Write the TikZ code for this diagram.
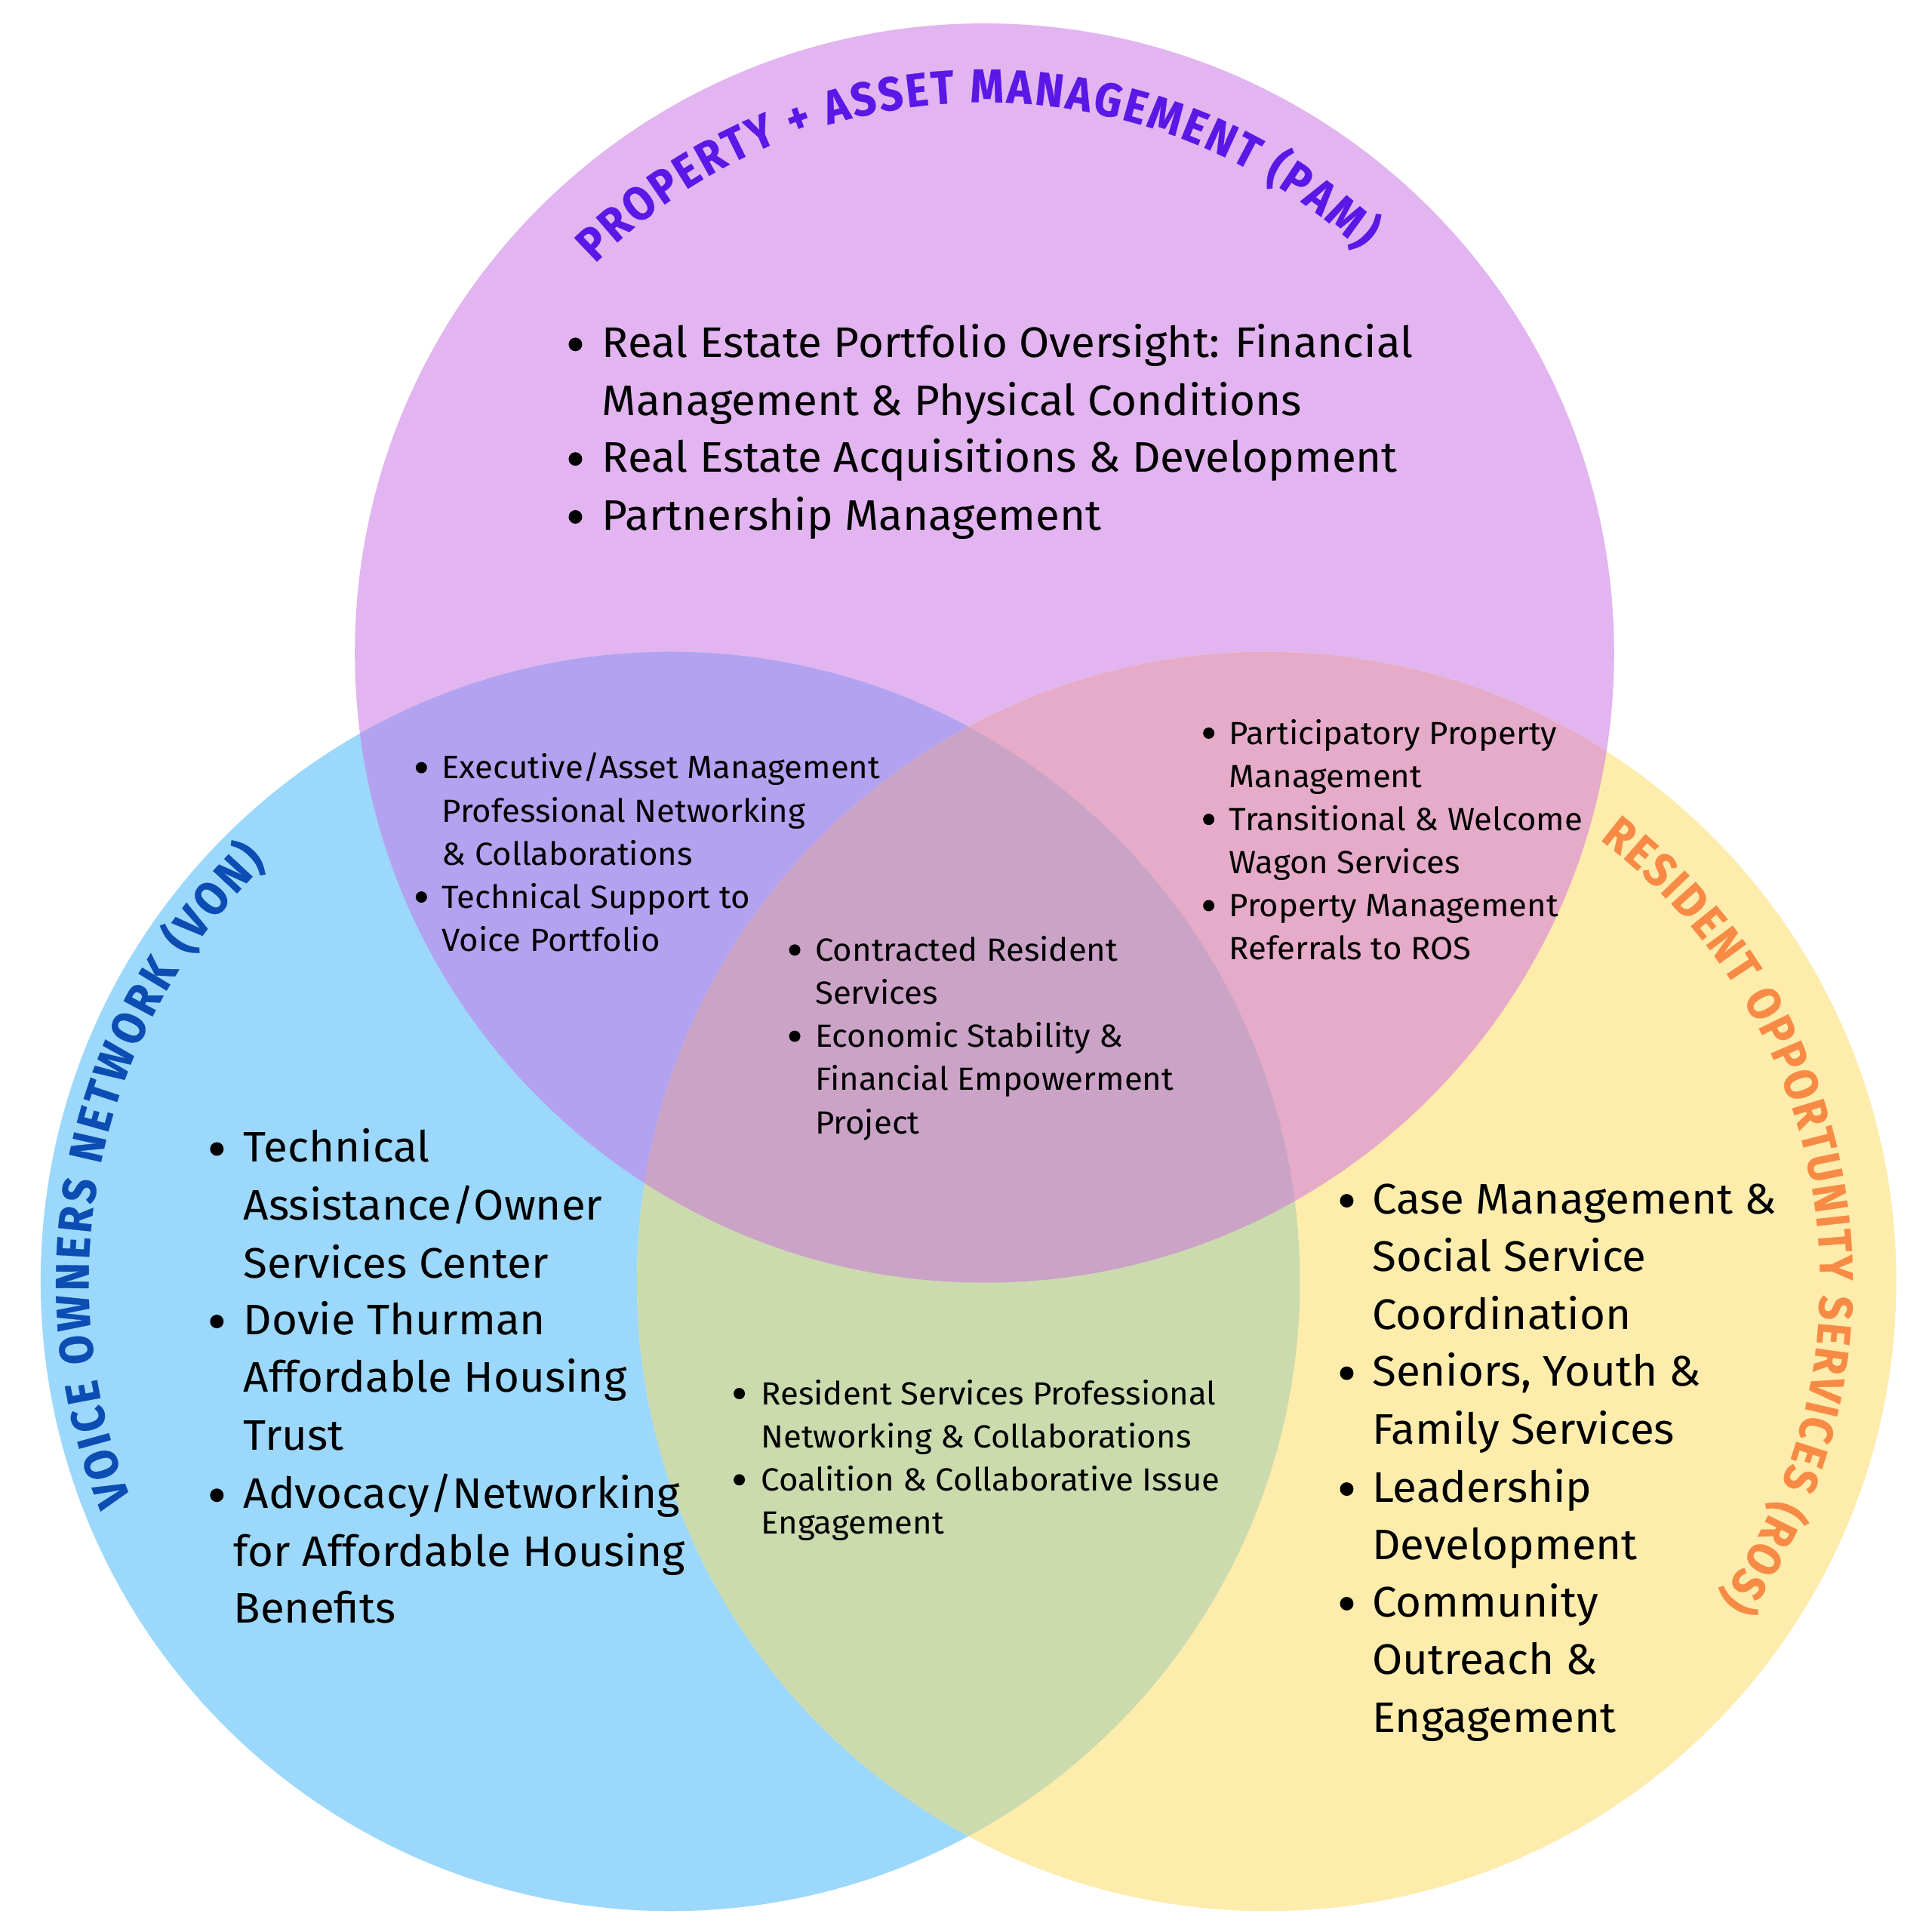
\documentclass[tikz,border=0pt]{standalone}
\usepackage{fontspec}
\setmainfont{Fira Sans}[FakeStretch=1.03]
\newfontfamily\titlefont{Fira Sans}[FakeStretch=0.9, FakeBold=0.5]
\usetikzlibrary{decorations.text}
\definecolor{cpam}{HTML}{E2B4F0}
\definecolor{cvon}{HTML}{9CD8FB}
\definecolor{cros}{HTML}{FDECAC}
\definecolor{cpv}{HTML}{B3A2F0}
\definecolor{cpr}{HTML}{E5ABC8}
\definecolor{cvr}{HTML}{CBDBAE}
\definecolor{cmid}{HTML}{CBA3C7}
\definecolor{tpam}{HTML}{5A17E6}
\definecolor{tvon}{HTML}{0B4DB3}
\definecolor{tros}{HTML}{F78B45}
\tikzset{
  big/.style={font=\fontsize{10.4}{12}\selectfont, anchor=base west, inner sep=0pt, text=black},
  bigb/.style={circle, fill=black, inner sep=0pt, minimum size=3.3pt},
  sml/.style={font=\fontsize{7.8}{9}\selectfont, anchor=base west, inner sep=0pt, text=black},
  smlb/.style={circle, fill=black, inner sep=0pt, minimum size=2.75pt},
}
\newcommand\pamc{(799,-530) circle[radius=511]}
\newcommand\vonc{(544,-1040) circle[radius=511]}
\newcommand\rosc{(1028,-1040) circle[radius=511]}
\begin{document}
\begin{tikzpicture}[x=0.3pt,y=0.3pt]
\useasboundingbox (0,0) rectangle (1568,-1568);
\fill[white] (0,0) rectangle (1568,-1568);
% circles
\fill[cpam] \pamc;
\fill[cvon] \vonc;
\fill[cros] \rosc;
\begin{scope}\clip \pamc; \fill[cpv] \vonc; \end{scope}
\begin{scope}\clip \pamc; \fill[cpr] \rosc; \end{scope}
\begin{scope}\clip \vonc; \fill[cvr] \rosc; \end{scope}
\begin{scope}\clip \pamc; \clip \vonc; \fill[cmid] \rosc; \end{scope}
% titles
\path[decorate, decoration={text along path, text align=fit to path,
  text={|\titlefont\bfseries\fontsize{11.5}{13}\selectfont\color{tpam}|PROPERTY + ASSET MANAGEMENT (PAM)}}]
  (799,-530) ++(135:447) arc[start angle=135, end angle=47, radius=447];
\path[decorate, decoration={text along path, text align=fit to path,
  text={|\titlefont\bfseries\fontsize{11.5}{13}\selectfont\color{tvon}|VOICE OWNERS NETWORK (VON)}}]
  (544,-1040) ++(202:472) arc[start angle=202, end angle=134, radius=472];
\path[decorate, decoration={text along path, text align=fit to path,
  text={|\titlefont\bfseries\fontsize{11.5}{13}\selectfont\color{tros}|RESIDENT OPPORTUNITY SERVICES (ROS)}}]
  (1028,-1040) ++(53:449) arc[start angle=53, end angle=-35, radius=449];
% PAM list
\node[bigb] (pamb1) at (467,-279.5) {};
\node[big] (pam1) at (488,-290) {Real Estate Portfolio Oversight: Financial};
\node[big] (pam2) at (488,-337) {Management \& Physical Conditions};
\node[bigb] (pamb3) at (467,-372.5) {};
\node[big] (pam3) at (488,-383) {Real Estate Acquisitions \& Development};
\node[bigb] (pamb4) at (467,-419.5) {};
\node[big] (pam4) at (488,-430) {Partnership Management};
% VON list
\node[bigb] (vonb1) at (176,-932.5) {};
\node[big] (von1) at (197,-943) {Technical};
\node[big] (von2) at (197,-990) {Assistance/Owner};
\node[big] (von3) at (197,-1037) {Services Center};
\node[bigb] (vonb4) at (176,-1072.5) {};
\node[big] (von4) at (197,-1083) {Dovie Thurman};
\node[big] (von5) at (197,-1130) {Affordable Housing};
\node[big] (von6) at (197,-1177) {Trust};
\node[bigb] (vonb7) at (176,-1213.5) {};
\node[big] (von7) at (197,-1224) {Advocacy/Networking};
\node[big] (von8) at (189,-1271) {for Affordable Housing};
\node[big] (von9) at (189,-1317) {Benefits};
% ROS list
\node[bigb] (rosb1) at (1093,-974.5) {};
\node[big] (ros1) at (1113,-985) {Case Management \&};
\node[big] (ros2) at (1113,-1032) {Social Service};
\node[big] (ros3) at (1113,-1079) {Coordination};
\node[bigb] (rosb4) at (1093,-1114.5) {};
\node[big] (ros4) at (1113,-1125) {Seniors, Youth \&};
\node[big] (ros5) at (1113,-1172) {Family Services};
\node[bigb] (rosb6) at (1093,-1208.5) {};
\node[big] (ros6) at (1113,-1219) {Leadership};
\node[big] (ros7) at (1113,-1266) {Development};
\node[bigb] (rosb8) at (1093,-1301.5) {};
\node[big] (ros8) at (1113,-1312) {Community};
\node[big] (ros9) at (1113,-1359) {Outreach \&};
\node[big] (ros10) at (1113,-1406) {Engagement};
% PAM/VON overlap
\node[smlb] (pvb1) at (342,-623) {};
\node[sml] (pv1) at (358,-632) {Executive/Asset Management};
\node[sml] (pv2) at (358,-667) {Professional Networking};
\node[sml] (pv3) at (358,-702) {\& Collaborations};
\node[smlb] (pvb4) at (342,-728) {};
\node[sml] (pv4) at (358,-737) {Technical Support to};
\node[sml] (pv5) at (358,-772) {Voice Portfolio};
% centre
\node[smlb] (mb1) at (645,-771) {};
\node[sml] (m1) at (661,-780) {Contracted Resident};
\node[sml] (m2) at (661,-815) {Services};
\node[smlb] (mb3) at (645,-841) {};
\node[sml] (m3) at (661,-850) {Economic Stability \&};
\node[sml] (m4) at (661,-885) {Financial Empowerment};
\node[sml] (m5) at (661,-920) {Project};
% PAM/ROS overlap
\node[smlb] (prb1) at (981,-595) {};
\node[sml] (pr1) at (997,-604) {Participatory Property};
\node[sml] (pr2) at (997,-639) {Management};
\node[smlb] (prb3) at (981,-665) {};
\node[sml] (pr3) at (997,-674) {Transitional \& Welcome};
\node[sml] (pr4) at (997,-709) {Wagon Services};
\node[smlb] (prb5) at (981,-735) {};
\node[sml] (pr5) at (997,-744) {Property Management};
\node[sml] (pr6) at (997,-779) {Referrals to ROS};
% VON/ROS overlap
\node[smlb] (vrb1) at (600,-1131) {};
\node[sml] (vr1) at (617,-1140) {Resident Services Professional};
\node[sml] (vr2) at (617,-1175) {Networking \& Collaborations};
\node[smlb] (vrb3) at (600,-1201) {};
\node[sml] (vr3) at (617,-1210) {Coalition \& Collaborative Issue};
\node[sml] (vr4) at (617,-1245) {Engagement};
\end{tikzpicture}
\end{document}
